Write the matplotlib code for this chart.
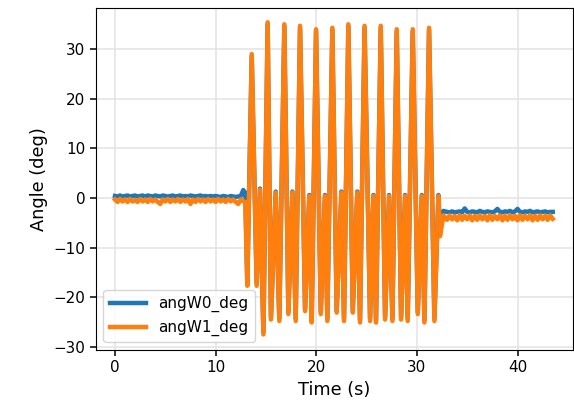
import matplotlib
matplotlib.use("Agg")
import matplotlib.pyplot as plt

# quiet part before the oscillation (s, deg)
pre_t = [0.0, 0.25, 0.5, 0.75, 1.0, 1.25, 1.5, 1.75, 2.0, 2.25,
         2.5, 2.75, 3.0, 3.25, 3.5, 3.75, 4.0, 4.25, 4.5, 4.75,
         5.0, 5.25, 5.5, 5.75, 6.0, 6.25, 6.5, 6.75, 7.0, 7.25,
         7.5, 7.75, 8.0, 8.25, 8.5, 8.75, 9.0, 9.25, 9.5, 9.75,
         10.0, 10.25, 10.5, 10.75, 11.0, 11.25, 11.5, 11.75, 12.0, 12.25,
         12.5, 12.75, 12.95]
pre_w0 = [0.4, 0.3, 0.5, 0.3, 0.4, 0.5, 0.3, 0.4, 0.5, 0.3,
          0.4, 0.5, 0.3, 0.5, 0.4, 0.3, 0.5, 0.4, 0.3, 0.5,
          0.4, 0.3, 0.4, 0.5, 0.3, 0.4, 0.5, 0.3, 0.4, 0.3,
          0.5, 0.4, 0.3, 0.4, 0.5, 0.3, 0.4, 0.3, 0.4, 0.3,
          0.4, 0.3, 0.2, 0.4, 0.3, 0.2, 0.4, 0.3, 0.2, 0.3,
          0.4, 1.6, 1.0]
pre_w1 = [-0.3, -0.8, -0.2, -0.7, -0.3, -0.8, -0.2, -0.7, -0.4, -0.8,
          -0.2, -0.7, -0.3, -0.8, -0.2, -0.7, -0.3, -0.8, -1.2, -0.3,
          -0.7, -0.2, -0.8, -0.3, -0.7, -0.2, -0.8, -0.3, -0.7, -0.2,
          -1.2, -0.3, -0.8, -0.2, -0.7, -0.3, -0.8, -0.2, -0.7, -0.3,
          -0.8, -0.2, -0.7, -0.3, -0.8, -0.2, -0.7, -0.3, -0.8, -1.2,
          -0.3, -0.6, -0.8]

# oscillation section
osc_t = [13.15, 13.59, 14.08, 14.41, 14.75, 15.17, 15.50, 15.97, 16.33, 16.83,
         17.23, 17.63, 17.96, 18.39, 18.89, 19.31, 19.55, 19.98, 20.45, 20.87,
         21.10, 21.60, 22.03, 22.50, 22.76, 23.19, 23.63, 24.08, 24.35, 24.80,
         25.35, 25.68, 25.94, 26.41, 26.84, 27.24, 27.57, 28.00, 28.43, 28.83,
         29.09, 29.59, 30.09, 30.49, 30.75, 31.21, 31.74, 32.14, 32.30]
osc_w1 = [-17.7, 29.0, -17.7, 1.7, -27.5, 35.4, -24.5, 1.1, -24.8, 35.0,
          -23.4, 1.1, -24.8, 34.7, -22.8, 0.4, -25.1, 34.0, -23.4, 0.4,
          -24.8, 34.3, -23.1, 1.1, -24.8, 35.0, -23.1, 1.1, -25.1, 34.7,
          -24.8, 0.4, -25.1, 34.7, -24.5, 0.4, -24.8, 34.0, -24.5, 0.4,
          -24.8, 34.0, -23.4, 0.4, -25.1, 34.3, -24.8, 0.4, -7.7]
osc_w0 = [-17.0, 28.6, -17.2, 1.9, -27.0, 35.0, -24.0, 1.3, -24.3, 34.6,
          -23.0, 1.3, -24.3, 34.3, -22.4, 0.6, -24.6, 33.6, -23.0, 0.6,
          -24.3, 33.9, -22.7, 1.3, -24.3, 34.6, -22.7, 1.3, -24.6, 34.3,
          -24.3, 0.6, -24.6, 34.3, -24.0, 0.6, -24.3, 33.6, -24.0, 0.6,
          -24.3, 33.6, -23.0, 0.6, -24.6, 33.9, -24.3, 0.6, -6.5]

# settled part after the oscillation
post_t = [32.64, 33.0, 33.25, 33.5, 33.75, 34.0, 34.25, 34.5, 34.75, 35.0,
          35.25, 35.5, 35.75, 36.0, 36.25, 36.5, 36.75, 37.0, 37.25, 37.5,
          37.75, 38.0, 38.25, 38.5, 38.75, 39.0, 39.25, 39.5, 39.75, 40.0,
          40.25, 40.5, 40.75, 41.0, 41.25, 41.5, 41.75, 42.0, 42.25, 42.5,
          42.75, 43.0, 43.25, 43.5]
post_w0 = [-2.6, -2.8, -2.9, -2.7, -2.9, -2.8, -2.7, -2.9, -2.1, -2.8,
           -2.9, -2.7, -2.8, -2.9, -2.6, -2.8, -2.9, -2.7, -2.8, -2.9,
           -2.7, -2.2, -2.8, -2.9, -2.7, -2.8, -2.6, -2.9, -2.7, -2.2,
           -2.8, -2.9, -2.7, -2.8, -2.6, -2.9, -2.8, -2.7, -2.9, -2.8,
           -2.7, -2.9, -2.8, -2.8]
post_w1 = [-3.5, -4.4, -3.5, -4.3, -3.6, -4.5, -3.5, -4.4, -3.6, -4.3,
           -3.5, -4.5, -3.6, -4.4, -3.5, -4.3, -3.6, -4.5, -3.5, -4.4,
           -3.6, -4.3, -3.5, -4.5, -3.6, -4.4, -3.5, -4.3, -3.6, -4.5,
           -3.5, -4.4, -3.6, -4.3, -3.5, -4.5, -3.6, -4.4, -3.5, -4.3,
           -3.6, -4.4, -3.5, -4.2]

time_s = pre_t + osc_t + post_t
angW0_deg = pre_w0 + osc_w0 + post_w0
angW1_deg = pre_w1 + osc_w1 + post_w1

fig, ax = plt.subplots(figsize=(5.74, 4.15), dpi=100)
ax.plot(time_s, angW0_deg, color="#1f77b4", lw=3.2, label="angW0_deg")
ax.plot(time_s, angW1_deg, color="#ff7f0e", lw=3.2, label="angW1_deg")

ax.set_xlim(-1.9, 45.5)
ax.set_ylim(-30.6, 38.3)
ax.set_xlabel("Time (s)", fontsize=12.8)
ax.set_ylabel("Angle (deg)", fontsize=12.8)
ax.tick_params(labelsize=10.9, width=1.1, length=4)
ax.grid(True, color="#e3e3e3", lw=1.1)
ax.legend(loc="lower left", fontsize=11, handlelength=2.4)

fig.subplots_adjust(left=0.167, right=0.998, top=0.981, bottom=0.157)
fig.savefig("out.png", dpi=100)
